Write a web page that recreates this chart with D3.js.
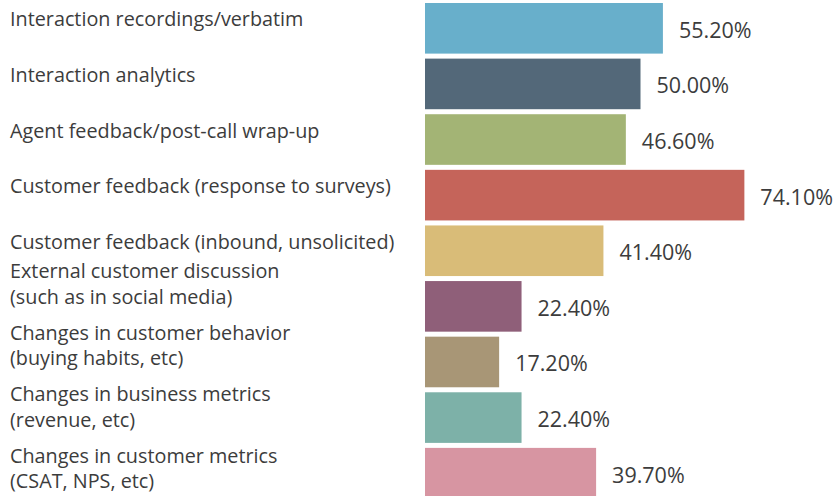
<!DOCTYPE html>
<html>
<head>
<meta charset="utf-8">
<script src="https://cdn.jsdelivr.net/npm/d3@7"></script>
<style>
  html, body { margin: 0; padding: 0; background: #fff; }
  svg { display: block; }
  text { font-family: "Open Sans", "Noto Sans", sans-serif; fill: #3c3c3c; }
</style>
</head>
<body>
<svg id="chart" width="834" height="496"></svg>
<script>
// Data sources tracked, share of respondents (%)
const categories = [
  ["Interaction recordings/verbatim"],
  ["Interaction analytics"],
  ["Agent feedback/post-call wrap-up"],
  ["Customer feedback (response to surveys)"],
  ["Customer feedback (inbound, unsolicited)"],
  ["External customer discussion", "(such as in social media)"],
  ["Changes in customer behavior", "(buying habits, etc)"],
  ["Changes in business metrics", "(revenue, etc)"],
  ["Changes in customer metrics", "(CSAT, NPS, etc)"]
];
const values = [55.2, 50.0, 46.6, 74.1, 41.4, 22.4, 17.2, 22.4, 39.7];
const colors = ["#68afcb", "#536879", "#a3b475", "#c5645a", "#d9bc78",
                "#8f5f79", "#a89676", "#7db1a8", "#d795a2"];

const W = 834, H = 496;
const svg = d3.select("#chart");

const keys = categories.map((c, i) => i);
const x = d3.scaleLinear().domain([0, 100]).range([425, 425 + 431]);
const y = d3.scaleBand().domain(keys).range([0.5, 501])
  .paddingInner(0.09).paddingOuter(0.045);

// Bars
svg.append("g").selectAll("rect")
  .data(values)
  .join("rect")
  .attr("x", x(0))
  .attr("y", (d, i) => y(i))
  .attr("width", d => x(d) - x(0))
  .attr("height", y.bandwidth())
  .attr("fill", (d, i) => colors[i]);

// Value labels
svg.append("g").selectAll("text")
  .data(values)
  .join("text")
  .attr("x", d => x(d) + 16)
  .attr("y", (d, i) => y(i) + y.bandwidth() / 2 + 9.5)
  .style("font-size", "21.5px")
  .text(d => d.toFixed(2) + "%");

// Category labels: single lines sit beside their bar,
// wrapped labels stack upward from the bottom of the column.
const lineGap = 25.5, blockStep = 61.5;
let cursor = H - 8;
const lastBaseline = new Array(categories.length);
for (let i = categories.length - 1; i >= 0; i--) {
  if (categories[i].length > 1) {
    lastBaseline[i] = cursor;
    cursor -= blockStep;
  } else {
    lastBaseline[i] = y(i) + y.bandwidth() / 2 - 2;
  }
}

const lab = svg.append("g").selectAll("text")
  .data(categories)
  .join("text")
  .attr("x", 10)
  .style("font-size", "19.8px");
lab.each(function (lines, i) {
  const t = d3.select(this);
  const first = lastBaseline[i] - (lines.length - 1) * lineGap;
  lines.forEach((s, k) => {
    t.append("tspan").attr("x", 10).attr("y", first + k * lineGap).text(s);
  });
});
</script>
</body>
</html>
